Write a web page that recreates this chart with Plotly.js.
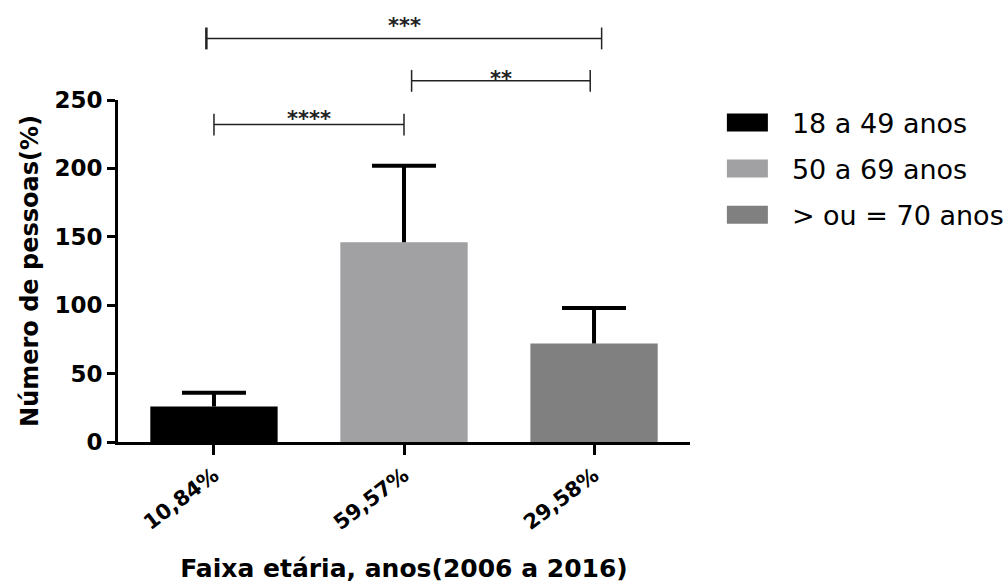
<!DOCTYPE html>
<html><head><meta charset="utf-8">
<script src="https://cdn.plot.ly/plotly-3.0.1.min.js"></script>
<style>html,body{margin:0;padding:0;background:#fff}</style>
</head><body><div id="chart" style="width:1007px;height:584px"></div>
<script>
const categories = ['10,84%', '59,57%', '29,58%'];
const groupNames = ['18 a 49 anos', '50 a 69 anos', '> ou = 70 anos'];
const meanValues = [26, 146, 72];
const errorValues = [10, 56, 26];
const barColors = ['#000000', '#a1a1a4', '#808080'];
const bracketStart = [0, 1.04, -0.04];
const bracketEnd = [1, 1.98, 2.04];
const bracketLevel = [232, 264, 295];
const bracketLabels = ['****', '**', '***'];
const yTicks = [0, 50, 100, 150, 200, 250];
const yMax = 250;

const traces = categories.map((c, i) => ({
  type: 'bar', x: [c], y: [meanValues[i]], name: groupNames[i], legendgroup: 'g' + i,
  marker: {color: barColors[i], line: {width: 0}}, width: 0.67,
  error_y: {type: 'data', symmetric: false, array: [errorValues[i]], arrayminus: [0],
            color: '#000', thickness: 4, width: 32},
  hoverinfo: 'none'
}));

const shapes = [];
const annotations = [];
const tickH = 8;
const starShift = [-8, -12, -2];
bracketLabels.forEach((lab, i) => {
  const lv = bracketLevel[i];
  const line = {color: '#222', width: 1.5};
  shapes.push({type: 'line', xref: 'x', yref: 'paper', x0: bracketStart[i], x1: bracketEnd[i], y0: lv / yMax, y1: lv / yMax, line});
  shapes.push({type: 'line', xref: 'x', yref: 'paper', x0: bracketStart[i], x1: bracketStart[i], y0: (lv - tickH) / yMax, y1: (lv + tickH) / yMax, line: {color: '#222', width: i === 2 ? 2.5 : 1.5}});
  shapes.push({type: 'line', xref: 'x', yref: 'paper', x0: bracketEnd[i], x1: bracketEnd[i], y0: (lv - tickH) / yMax, y1: (lv + tickH) / yMax, line});
  annotations.push({xref: 'x', yref: 'paper', x: (bracketStart[i] + bracketEnd[i]) / 2, y: lv / yMax,
    text: lab, showarrow: false, xanchor: 'center', yanchor: 'bottom', yshift: starShift[i],
    font: {family: 'DejaVu Sans', size: 21, weight: 'bold', color: '#222'}});
});

const layout = {
  width: 1007, height: 584,
  margin: {l: 118, r: 317, t: 100, b: 142, pad: 0},
  paper_bgcolor: '#fff', plot_bgcolor: '#fff',
  font: {family: 'DejaVu Sans', color: '#000'},
  barmode: 'overlay',
  showlegend: true,
  legend: {xref: 'container', yref: 'container', x: 0.698, y: 0.8315, xanchor: 'left', yanchor: 'top',
           itemwidth: 79, tracegroupgap: 8, font: {size: 27, family: 'DejaVu Sans'},
           bgcolor: 'rgba(0,0,0,0)'},
  xaxis: {type: 'category', range: [-0.505, 2.505], showgrid: false, zeroline: false,
          showline: true, linewidth: 3, linecolor: '#000', ticks: 'outside', ticklen: 10,
          tickwidth: 3, tickcolor: '#000', tickangle: -37,
          tickfont: {size: 21, weight: 'bold'},
          title: {text: 'Faixa etária, anos(2006 a 2016)', standoff: 26, font: {size: 25, weight: 'bold'}}},
  yaxis: {range: [0, yMax], tickvals: yTicks, showgrid: false, zeroline: false,
          showline: true, linewidth: 3, linecolor: '#000', ticks: 'outside', ticklen: 8,
          tickwidth: 3, tickcolor: '#000', tickfont: {size: 23, weight: 'bold'},
          title: {text: 'Número de pessoas(%)', standoff: 9, font: {size: 24, weight: 'bold'}}},
  shapes, annotations
};

Plotly.newPlot('chart', traces, layout, {staticPlot: true, displayModeBar: false}).then(() => {
  document.querySelectorAll('.legend .legendpoints path').forEach(p => {
    p.setAttribute('d', 'M20.5,9H-20.5V-9H20.5Z');
  });
  document.querySelectorAll('.errorbar path').forEach(p => {
    const d = p.getAttribute('d') || '';
    p.setAttribute('d', d.replace(/m-[\d.]+,0h[\d.]+$/, ''));
  });
});
</script></body></html>
